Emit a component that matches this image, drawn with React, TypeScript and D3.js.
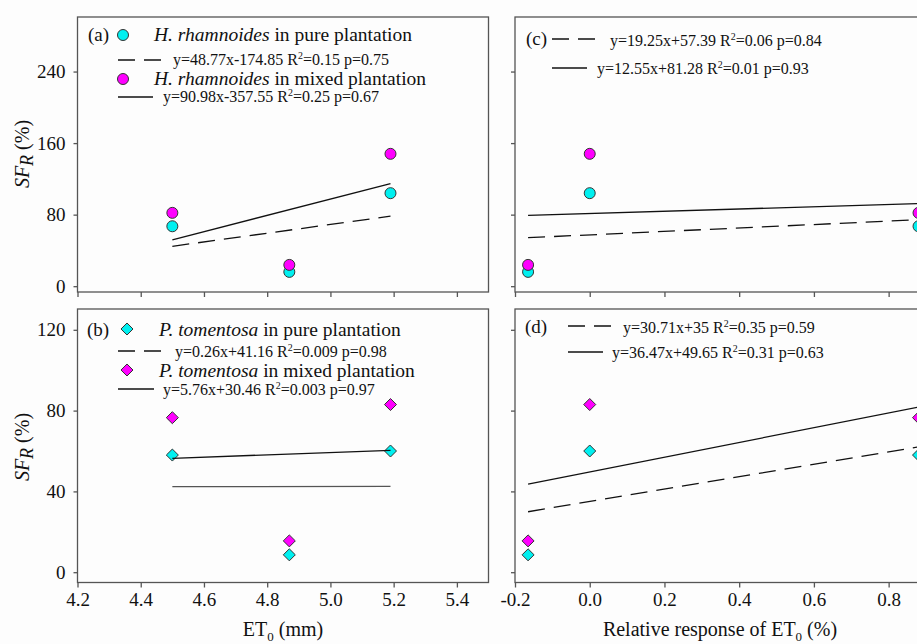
import React, { useEffect, useRef } from 'react';
import * as d3 from 'd3';

// x values: ET0 (mm) and the relative response of ET0
const et0 = [4.5, 4.87, 5.19];
const relativeEt0 = [0.88, -0.165, 0.0];

// SFR (%) values, same order as the x arrays
const hrPure = [67, 16, 104];
const hrMixed = [82, 23.8, 148];
const ptPure = [58, 8.6, 60];
const ptMixed = [76.5, 15.5, 83];

// regression lines [slope, intercept], pure first then mixed
const fitA = [[48.77, -174.85], [90.98, -357.55]];
const fitB = [[0.26, 41.16], [5.76, 30.46]];
const fitC = [[19.25, 57.39], [12.55, 81.28]];
const fitD = [[30.71, 35], [36.47, 49.65]];

const eqA = ['y=48.77x-174.85 R^2=0.15 p=0.75', 'y=90.98x-357.55 R^2=0.25 p=0.67'];
const eqB = ['y=0.26x+41.16 R^2=0.009 p=0.98', 'y=5.76x+30.46 R^2=0.003 p=0.97'];
const eqC = ['y=19.25x+57.39 R^2=0.06 p=0.84', 'y=12.55x+81.28 R^2=0.01 p=0.93'];
const eqD = ['y=30.71x+35 R^2=0.35 p=0.59', 'y=36.47x+49.65 R^2=0.31 p=0.63'];

const hrNames = ['H. rhamnoides', 'H. rhamnoides'];
const ptNames = ['P. tomentosa', 'P. tomentosa'];
const plantations = [' in pure plantation', ' in mixed plantation'];

const etTicks = [4.2, 4.4, 4.6, 4.8, 5.0, 5.2, 5.4];
const relTicks = [-0.2, 0.0, 0.2, 0.4, 0.6, 0.8];
const hrTicks = [0, 80, 160, 240];
const ptTicks = [0, 40, 80, 120];

const FONT = "'Liberation Serif', 'Times New Roman', 'DejaVu Serif', serif";
const FRAME = '#555';
const DASH = '17,9';
const COLORS = ['#00f0f0', '#ff00ff'];

function eqText(sel, str, size) {
  const [a, b] = str.split('^2');
  sel.attr('font-size', size);
  sel.append('tspan').text(a);
  sel.append('tspan').attr('font-size', size * 0.62).attr('dy', -size * 0.4).text('2');
  sel.append('tspan').attr('dy', size * 0.4).text(b);
}

function drawMarker(g, shape, cx, cy, color) {
  if (shape === 'circle') {
    g.append('circle').attr('cx', cx).attr('cy', cy).attr('r', 5.5)
      .attr('fill', color).attr('stroke', '#333').attr('stroke-width', 1);
  } else {
    g.append('path').attr('d', d3.symbol(d3.symbolDiamond2, 92)())
      .attr('transform', `translate(${cx},${cy})`)
      .attr('fill', color).attr('stroke', '#333').attr('stroke-width', 1);
  }
}

function drawPanel(svg, p) {
  const x = d3.scaleLinear().domain(p.xDomain).range([p.left, p.right]);
  const y = d3.scaleLinear().domain(p.yDomain).range([p.bottom, p.top]);
  const g = svg.append('g');

  g.append('rect')
    .attr('x', p.left).attr('y', p.top)
    .attr('width', p.right - p.left).attr('height', p.bottom - p.top)
    .attr('fill', 'none').attr('stroke', FRAME).attr('stroke-width', 1.3);

  const yAxis = g.append('g')
    .attr('transform', `translate(${p.left},0)`)
    .call(d3.axisLeft(y).tickValues(p.yTicks).tickSize(4).tickPadding(8)
      .tickFormat(d => (p.yLabels ? String(d) : '')));
  yAxis.select('.domain').remove();

  const xAxis = g.append('g')
    .attr('transform', `translate(0,${p.bottom})`)
    .call(d3.axisBottom(x).tickValues(p.xTicks).tickSize(5).tickPadding(5)
      .tickFormat(d => (p.xLabels ? (+d).toFixed(1) : '')));
  xAxis.select('.domain').remove();

  [yAxis, xAxis].forEach(a => {
    a.attr('font-family', null).attr('font-size', 19);
    a.selectAll('line').attr('stroke', FRAME).attr('stroke-width', 1.3);
    a.selectAll('text').attr('fill', '#111');
  });

  // points, pure series first
  p.series.forEach((ys, i) => {
    ys.forEach((v, j) => drawMarker(g, p.shape, x(p.xs[j]), y(v), COLORS[i]));
  });

  // regression lines over the points
  const [x0, x1] = d3.extent(p.xs);
  const line = d3.line<number>().x(d => x(d[0])).y(d => y(d[1]));
  p.fits.forEach(([m, b], i) => {
    const style = p.fitStyles[i];
    g.append('path')
      .attr('d', line([[x0, m * x0 + b], [x1, m * x1 + b]]))
      .attr('fill', 'none')
      .attr('stroke', style === 'grey' ? '#555' : '#111')
      .attr('stroke-width', 1.3)
      .attr('stroke-dasharray', style === 'dash' ? DASH : null);
  });

  // legend
  const L = p.legend;
  g.append('text').attr('x', L.labelX).attr('y', L.labelY)
    .attr('font-size', 19).attr('fill', '#111').text(p.label);
  L.rows.forEach((r, i) => {
    if (r.name) {
      drawMarker(g, p.shape, r.mx, r.my, COLORS[i]);
      const t = g.append('text').attr('x', r.tx).attr('y', r.ty)
        .attr('font-size', 19.5).attr('fill', '#111');
      t.append('tspan').attr('font-style', 'italic').text(r.name);
      t.append('tspan').text(plantations[i]);
    }
    g.append('line').attr('x1', r.lx0).attr('x2', r.lx1).attr('y1', r.ly).attr('y2', r.ly)
      .attr('stroke', '#111').attr('stroke-width', 1.3)
      .attr('stroke-dasharray', i === 0 ? DASH : null);
    const e = g.append('text').attr('x', r.ex).attr('y', r.ey).attr('fill', '#111');
    eqText(e, p.eqs[i], 16);
  });
}

function drawTitles(svg) {
  const yTitle = (cy) => {
    const t = svg.append('text')
      .attr('transform', `translate(29,${cy}) rotate(-90)`)
      .attr('text-anchor', 'middle')
      .attr('font-size', 20).attr('fill', '#111');
    t.append('tspan').attr('font-style', 'italic').text('SF');
    t.append('tspan').attr('font-style', 'italic').attr('font-size', 18).attr('dy', 4).text('R');
    t.append('tspan').attr('dy', -4).text(' (%)');
  };
  yTitle(154);
  yTitle(447);

  const xTitle = (cx, before, after) => {
    const t = svg.append('text').attr('x', cx).attr('y', 636)
      .attr('text-anchor', 'middle')
      .attr('font-size', 20).attr('fill', '#111');
    t.append('tspan').text(before);
    t.append('tspan').attr('font-size', 13).attr('dy', 5).text('0');
    t.append('tspan').attr('dy', -5).text(after);
  };
  xTitle(283, 'ET', ' (mm)');
  xTitle(720, 'Relative response of ET', ' (%)');
}

function draw(node) {
  const svg = d3.select(node);
  svg.selectAll('*').remove();
  svg.style('font-family', FONT);
  svg.append('rect').attr('width', 917).attr('height', 644).attr('fill', '#fdfdfd');

  const left = { left: 77.5, right: 488.5, xDomain: [4.2, 5.5], xTicks: etTicks, xs: et0, yLabels: true };
  const right = { left: 515, right: 926, xDomain: [-0.2, 0.9], xTicks: relTicks, xs: relativeEt0, yLabels: false };
  const top = { top: 17, bottom: 292, yDomain: [-6.5, 301], yTicks: hrTicks, series: [hrPure, hrMixed], shape: 'circle', xLabels: false };
  const bottom = { top: 309, bottom: 582.5, yDomain: [-5.1, 130.3], yTicks: ptTicks, series: [ptPure, ptMixed], shape: 'diamond', xLabels: true };

  drawPanel(svg, {
    ...left, ...top, label: '(a)', fits: fitA, eqs: eqA, fitStyles: ['dash', 'solid'],
    legend: {
      labelX: 88, labelY: 41,
      rows: [
        { name: hrNames[0], mx: 123, my: 35, tx: 154, ty: 41, lx0: 118, lx1: 162, ly: 60, ex: 173, ey: 65 },
        { name: hrNames[1], mx: 123, my: 79, tx: 154, ty: 85, lx0: 118, lx1: 153, ly: 97, ex: 163, ey: 102 },
      ],
    },
  });
  drawPanel(svg, {
    ...left, ...bottom, label: '(b)', fits: fitB, eqs: eqB, fitStyles: ['grey', 'solid'],
    legend: {
      labelX: 87, labelY: 336,
      rows: [
        { name: ptNames[0], mx: 127, my: 329, tx: 159, ty: 336, lx0: 118, lx1: 163, ly: 351, ex: 175, ey: 357 },
        { name: ptNames[1], mx: 127, my: 370, tx: 159, ty: 377, lx0: 118, lx1: 154, ly: 389, ex: 163, ey: 395 },
      ],
    },
  });
  drawPanel(svg, {
    ...right, ...top, label: '(c)', fits: fitC, eqs: eqC, fitStyles: ['dash', 'solid'],
    legend: {
      labelX: 526, labelY: 45,
      rows: [
        { lx0: 552, lx1: 595, ly: 39, ex: 610, ey: 46 },
        { lx0: 552, lx1: 587, ly: 68, ex: 597, ey: 74 },
      ],
    },
  });
  drawPanel(svg, {
    ...right, ...bottom, label: '(d)', fits: fitD, eqs: eqD, fitStyles: ['dash', 'solid'],
    legend: {
      labelX: 525, labelY: 333,
      rows: [
        { lx0: 568, lx1: 613, ly: 326, ex: 623, ey: 333 },
        { lx0: 568, lx1: 603, ly: 352, ex: 612, ey: 358 },
      ],
    },
  });

  drawTitles(svg);
}

export default function App() {
  const ref = useRef<SVGSVGElement>(null);
  useEffect(() => {
    if (ref.current) draw(ref.current);
  }, []);
  return (
    <svg ref={ref} width={917} height={644}
      style={{ position: 'absolute', left: 0, top: 0, overflow: 'hidden' }} />
  );
}
